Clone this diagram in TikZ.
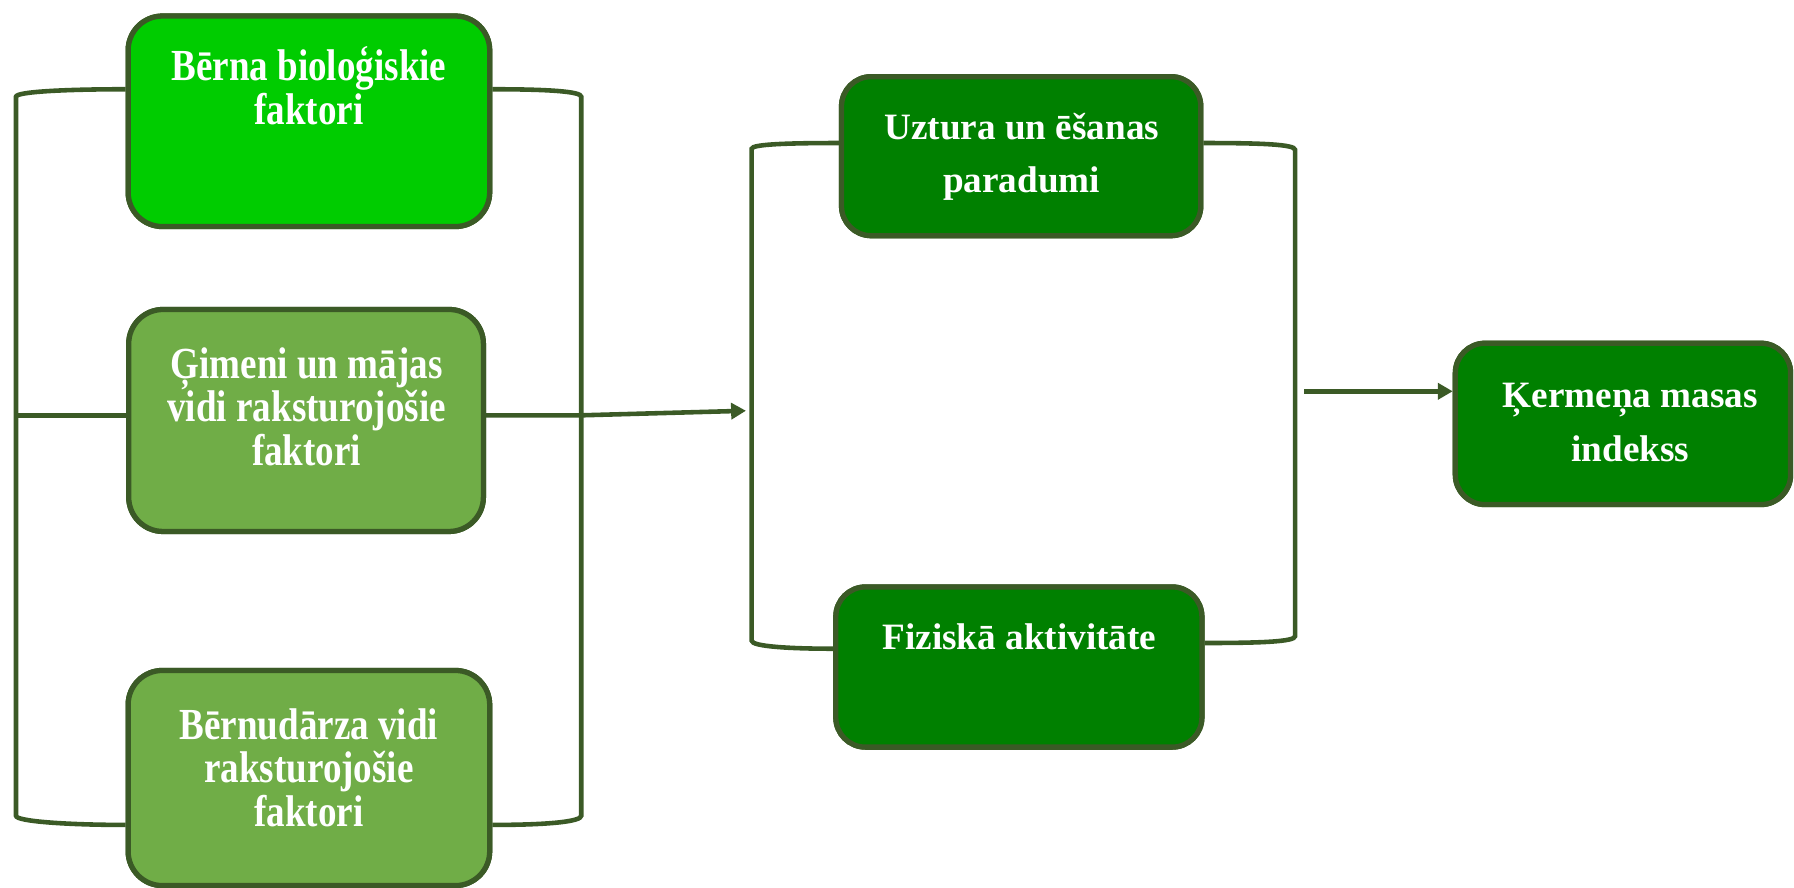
\documentclass[tikz,border=0pt]{standalone}
\usepackage{fontspec}
\setmainfont{Liberation Serif}
\newfontfamily\lfont[FakeStretch=0.835]{Liberation Serif}
\usetikzlibrary{arrows.meta}
\definecolor{edgec}{HTML}{3B5A26}
\definecolor{brightg}{HTML}{00CC00}
\definecolor{oliveg}{HTML}{70AD47}
\definecolor{darkg}{HTML}{008000}
\begin{document}
\begin{tikzpicture}[x=0.5pt,y=-0.5pt,
  box/.style={draw=edgec, line width=2.3pt, rounded corners=15pt, inner sep=0pt},
  boxR/.style={box, rounded corners=13pt, fill=darkg},
  txtL/.style={text=white, align=center, inner sep=0pt, font=\lfont\bfseries\fontsize{19.4}{19}\selectfont},
  txtR/.style={text=white, align=center, inner sep=0pt, font=\bfseries\fontsize{16.25}{23.5}\selectfont},
  brk/.style={draw=edgec, line width=2pt},
  arr/.style={brk, -{Triangle[length=6.5pt,width=7pt]}}]
\useasboundingbox (0,0) rectangle (1568,776);
\clip (0,0) rectangle (1568,776);

% bracket corner points
\coordinate (lt) at (14,84.5);
\coordinate (lb) at (14,713);
\coordinate (rt) at (508,84.5);
\coordinate (rb) at (508,713);
\coordinate (mlt) at (657,130);
\coordinate (mlb) at (657,560);
\coordinate (mrt) at (1132,131);
\coordinate (mrb) at (1132,556);
\coordinate (mid) at (508,363);
\coordinate (tip) at (652,359);
\coordinate (kstart) at (1140,342);

% boxes (positions)
\node[box, fill=brightg, minimum width=158pt, minimum height=92pt] (b1) at (270,106) {};
\node[box, fill=oliveg, minimum width=155pt, minimum height=97pt] (b2) at (267.5,367.5) {};
\node[box, fill=oliveg, minimum width=158pt, minimum height=94pt] (b3) at (270,680) {};
\node[boxR, minimum width=157pt, minimum height=69.5pt] (b4) at (892.5,136.5) {};
\node[boxR, minimum width=160pt, minimum height=70pt] (b5) at (890.5,583) {};
\node[boxR, minimum width=146.5pt, minimum height=70.5pt] (b6) at (1418.5,370.5) {};

% left bracket
\draw[brk] (b1.west |- 0,78) .. controls (60,78) and (14,80) .. (lt) -- (lb) .. controls (14,718) and (60,721) .. (b3.west |- 0,721);
\draw[brk] (lt |- mid) -- (b2.west |- mid);
% right bracket
\draw[brk] (b1.east |- 0,78) .. controls (480,78) and (508,80) .. (rt) -- (rb) .. controls (508,718) and (480,721) .. (b3.east |- 0,721);
% arrow into middle bracket
\draw[arr] (b2.east |- mid) -- (mid) -- (tip);
% middle brackets
\draw[brk] (b4.west |- 0,125) .. controls (690,125) and (657,126) .. (mlt) -- (mlb) .. controls (657,565) and (690,567) .. (b5.west |- 0,567);
\draw[brk] (b4.east |- 0,125) .. controls (1100,125) and (1132,126) .. (mrt) -- (mrb) .. controls (1132,561) and (1100,562) .. (b5.east |- 0,562);
% arrow to BMI
\draw[arr] (kstart) -- (b6.west |- kstart);

% redraw boxes on top of bracket ends
\node[box, fill=brightg, minimum width=158pt, minimum height=92pt] at (b1) {};
\node[box, fill=oliveg, minimum width=155pt, minimum height=97pt] at (b2) {};
\node[box, fill=oliveg, minimum width=158pt, minimum height=94pt] at (b3) {};
\node[boxR, minimum width=157pt, minimum height=69.5pt] at (b4) {};
\node[boxR, minimum width=160pt, minimum height=70pt] at (b5) {};
\node[boxR, minimum width=146.5pt, minimum height=70.5pt] at (b6) {};

% texts
\node[txtL] (t1) at (270,75) {Bērna bioloģiskie\\faktori};
\node[txtL] (t2) at (268,355.5) {Ģimeni un mājas\\vidi raksturojošie\\faktori};
\node[txtL] (t3) at (270,671) {Bērnudārza vidi\\raksturojošie\\faktori};
\node[txtR] (t4) at (893,137) {Uztura un ēšanas\\paradumi};
\node[txtR] (t5) at (891,556.5) {Fiziskā aktivitāte};
\node[txtR] (t6) at (1425,369) {Ķermeņa masas\\indekss};
\end{tikzpicture}
\end{document}
